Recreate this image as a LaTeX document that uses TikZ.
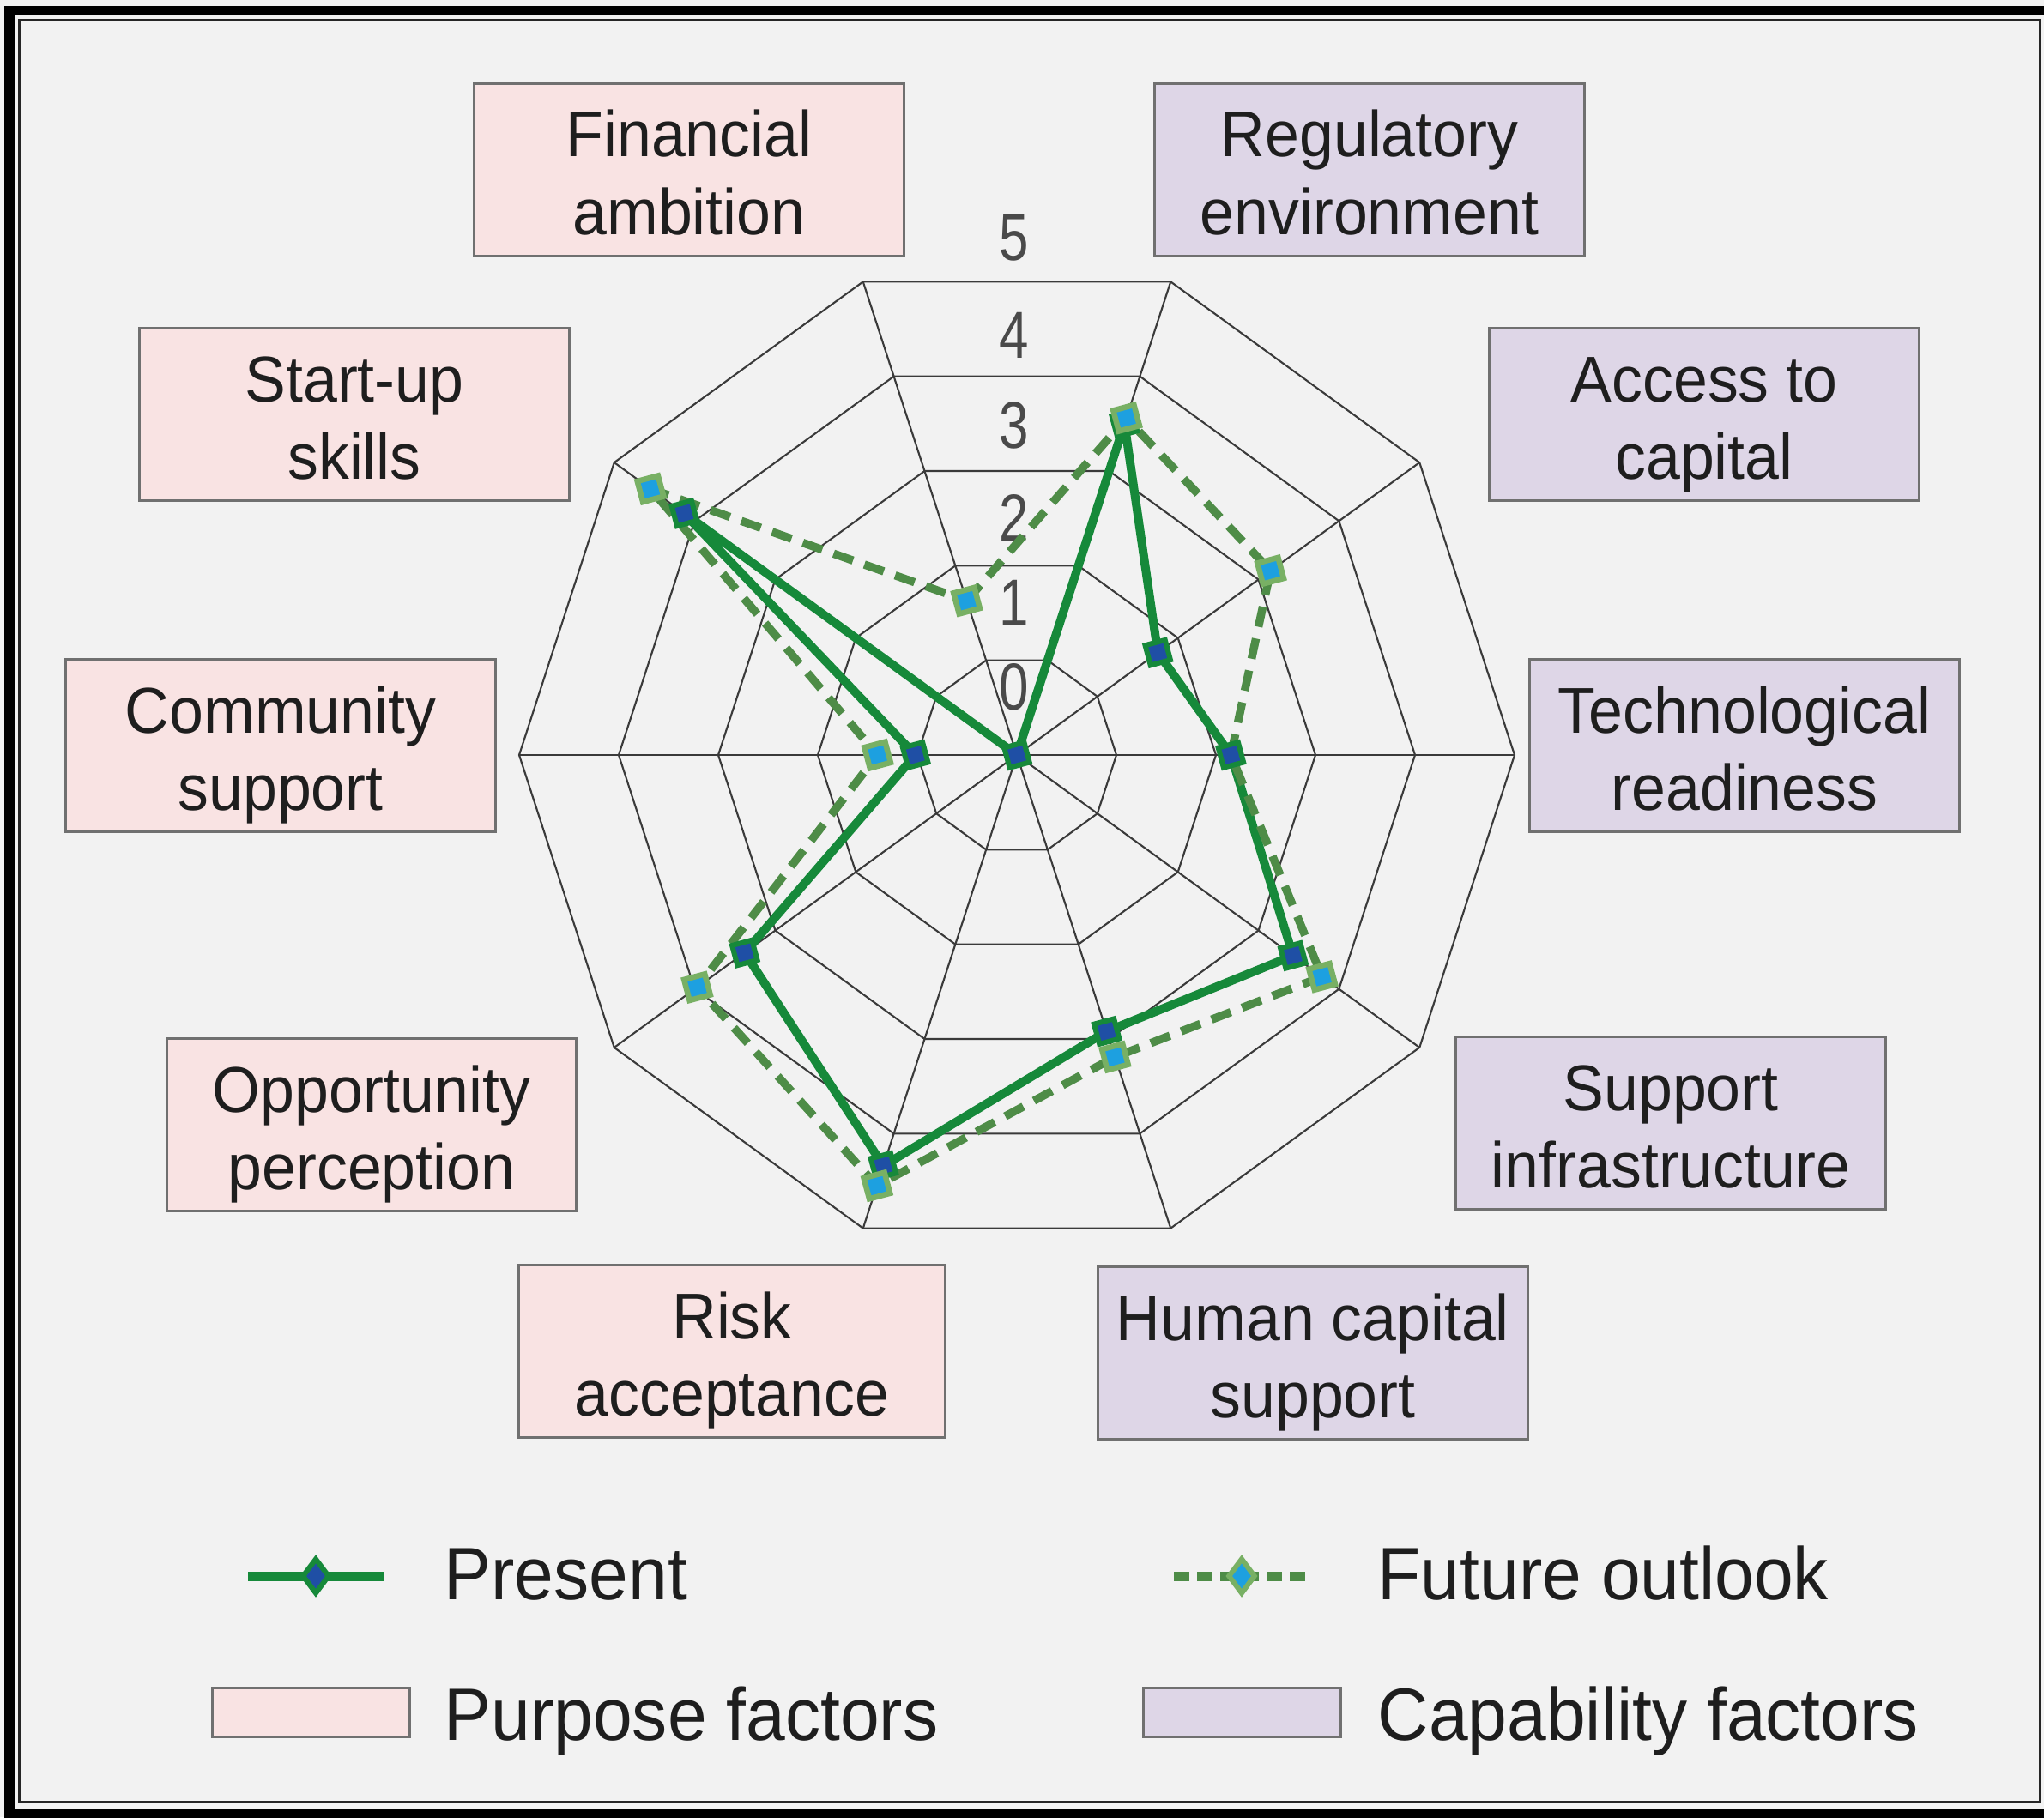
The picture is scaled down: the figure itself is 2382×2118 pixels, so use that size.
\documentclass[tikz,border=0pt]{standalone}
\usepackage{fontspec}
\setmainfont{Liberation Sans}[FakeStretch=0.95]
\newfontfamily\digitfont{Liberation Sans}[FakeStretch=0.8]
\usetikzlibrary{calc,shapes.geometric}
\definecolor{bg}{HTML}{F2F2F2}
\definecolor{pinkf}{HTML}{F9E3E3}
\definecolor{lavf}{HTML}{DED6E7}
\definecolor{boxln}{HTML}{707070}
\definecolor{gridln}{HTML}{3A3A3A}
\definecolor{presg}{HTML}{16893A}
\definecolor{presb}{HTML}{1F4FA5}
\definecolor{futg}{HTML}{4E8C47}
\definecolor{futlg}{HTML}{78B064}
\definecolor{futb}{HTML}{1DA0E0}
\definecolor{digc}{HTML}{4A4A4A}
\definecolor{txt}{HTML}{1E1E1E}
\begin{document}
\begin{tikzpicture}[x=0.01cm,y=-0.01cm,
  gridl/.style={draw=gridln, line width=0.6pt},
  presline/.style={draw=presg, line width=0.1cm, line join=round},
  futline/.style={draw=futg, line width=0.095cm, dash pattern=on 0.24cm off 0.14cm},
  pmark/.style={rectangle, fill=presb, draw=presg, line width=0.06cm, minimum size=0.24cm, inner sep=0, rotate=15},
  fmark/.style={rectangle, fill=futb, draw=futlg, line width=0.065cm, minimum size=0.25cm, inner sep=0, rotate=15},
  pbox/.style={rectangle, draw=boxln, line width=0.85pt, fill=pinkf, minimum width=5cm, minimum height=2cm, inner sep=0},
  cbox/.style={pbox, fill=lavf},
  lbl/.style={align=center, inner sep=0, text=txt, font=\fontsize{21.45}{25.6}\selectfont},
  digit/.style={inner sep=0, text=digc, font=\digitfont\fontsize{22}{24}\selectfont},
  legtxt/.style={anchor=base west, inner sep=0, text=txt, font=\fontsize{24.6}{28}\selectfont}]

\fill[bg] (0,0) rectangle (2382,2118);
\useasboundingbox (0,0) rectangle (2382,2118);
\draw[black, line width=0.11cm] (11,12.5) rectangle (2400,2114);
\draw[black!85, line width=0.035cm] (22.5,23.5) rectangle (2377.5,2100.5);

% factor boxes
\node[pbox] (fa) at (803,198) {};
\node[cbox] (re) at (1596,198) {};
\node[cbox] (ac) at (1986,483) {};
\node[cbox] (tr) at (2033,869) {};
\node[cbox] (si) at (1947,1309) {};
\node[cbox] (hc) at (1530,1577) {};
\node[pbox, minimum width=4.96cm] (ra) at (853,1575) {};
\node[pbox, minimum width=4.76cm] (op) at (433,1311) {};
\node[pbox] (cs) at (327,869) {};
\node[pbox] (ss) at (413,483) {};

\node[lbl] (fat) at ($(fa.center)+(0,12)$) {\strut Financial\\\strut ambition};
\node[lbl] (ret) at ($(re.center)+(0,12)$) {\strut Regulatory\\\strut environment};
\node[lbl] (act) at ($(ac.center)+(0,12)$) {\strut Access to\\\strut capital};
\node[lbl] (trt) at ($(tr.center)+(0,12)$) {\strut Technological\\\strut readiness};
\node[lbl] (sit) at ($(si.center)+(0,12)$) {\strut Support\\\strut infrastructure};
\node[lbl] (hct) at ($(hc.center)+(0,12)$) {\strut Human capital\\\strut support};
\node[lbl] (rat) at ($(ra.center)+(0,12)$) {\strut Risk\\\strut acceptance};
\node[lbl] (opt) at ($(op.center)+(0,12)$) {\strut Opportunity\\\strut perception};
\node[lbl] (cst) at ($(cs.center)+(0,12)$) {\strut Community\\\strut support};
\node[lbl] (sst) at ($(ss.center)+(0,12)$) {\strut Start-up\\\strut skills};

% radar grid and data
\begin{scope}[shift={(1185,880)}, yscale=-1]
  \foreach \k in {1,...,5}
    \draw[gridl] (108:{\k*116}) \foreach \a in {72,36,0,-36,-72,-108,-144,180,144}{ -- (\a:{\k*116})} -- cycle;
  \foreach \a in {108,72,36,0,-36,-72,-108,-144,180,144}
    \draw[gridl] (0,0) -- (\a:580);
  \coordinate (ctr) at (0,0);
  \foreach \a/\v [count=\i] in {108/0,72/3.5,36/1.75,0/2.15,-36/3.43,-72/2.92,-108/4.34,-144/3.38,180/1.02,144/4.13}
    \coordinate (p\i) at (\a:{\v*116});
  \foreach \a/\v [count=\i] in {108/1.63,72/3.56,36/3.15,0/2.15,-36/3.79,-72/3.19,-108/4.55,-144/3.97,180/1.4,144/4.55}
    \coordinate (f\i) at (\a:{\v*116});
\end{scope}

% scale digits
\node[digit] (d5) at (1182,277) {5};
\node[digit] (d4) at (1182,391) {4};
\node[digit] (d3) at (1182,496) {3};
\node[digit] (d2) at (1182,603) {2};
\node[digit] (d1) at (1182,703) {1};
\node[digit] (d0) at (1182,801) {0};

\draw[presline] (p1) -- (p2) -- (p3) -- (p4) -- (p5) -- (p6) -- (p7) -- (p8) -- (p9) -- (p10) -- cycle;
\draw[futline] (f1) -- (f2) -- (f3) -- (f4) -- (f5) -- (f6) -- (f7) -- (f8) -- (f9) -- (f10) -- cycle;
\foreach \i in {1,...,10} \node[pmark] (pm\i) at (p\i) {};
\foreach \i in {1,2,3,5,6,7,8,9,10} \node[fmark] (fm\i) at (f\i) {};

% legend
\coordinate (lpa) at (289,1837);
\coordinate (lpb) at (448,1837);
\draw[draw=presg, line width=0.11cm] (lpa) -- (lpb);
\node[diamond, fill=presb, draw=presg, line width=0.06cm, minimum width=0.32cm, minimum height=0.42cm, inner sep=0] (lpm) at (368,1837) {};
\node[legtxt] (lpt) at (517,1864) {Present};

\coordinate (lfa) at (1368,1837);
\coordinate (lfb) at (1526,1837);
\draw[draw=futg, line width=0.11cm, dash pattern=on 0.18cm off 0.09cm] (lfa) -- (lfb);
\node[diamond, fill=futb, draw=futlg, line width=0.06cm, minimum width=0.32cm, minimum height=0.42cm, inner sep=0] (lfm) at (1447,1837) {};
\node[legtxt] (lft) at (1605,1864) {Future outlook};

\node[pbox, minimum width=2.29cm, minimum height=0.57cm] (lps) at (362.5,1995.5) {};
\node[legtxt] (lpst) at (517,2028) {Purpose factors};
\node[cbox, minimum width=2.29cm, minimum height=0.57cm] (lcs) at (1447.5,1995.5) {};
\node[legtxt] (lcst) at (1605,2028) {Capability factors};
\end{tikzpicture}
\end{document}
